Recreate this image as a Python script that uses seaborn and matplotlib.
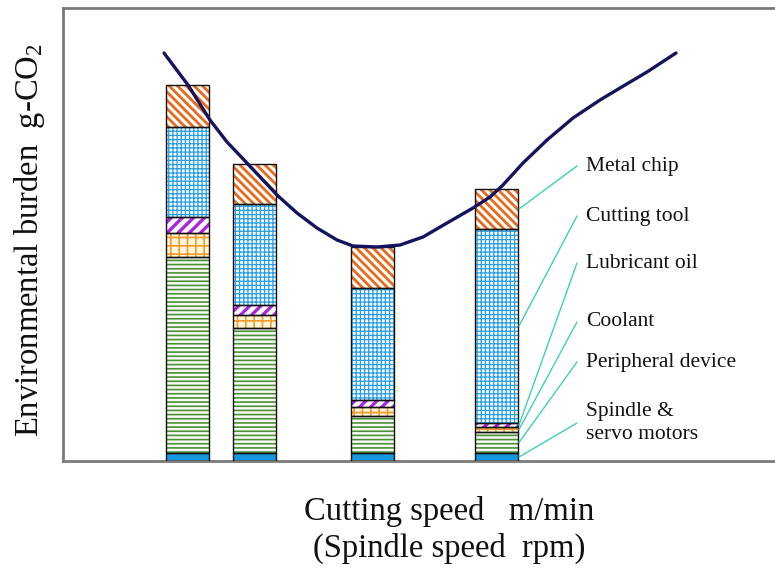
import matplotlib
matplotlib.use("Agg")
import matplotlib.pyplot as plt
import seaborn as sns
import pandas as pd
import numpy as np

# ------------------------ data ------------------------
bar_speed = [187.5, 254.5, 372.5, 496.5]          # bar positions on the cutting speed axis
components = ["Spindle &\nservo motors", "Peripheral device", "Coolant",
              "Lubricant oil", "Cutting tool", "Metal chip"]
spindle = [8, 8, 8, 8]
peripheral = [196, 125, 37, 21]
coolant = [24, 13, 9, 5]
lubricant = [16, 10, 7, 4]
cutting_tool = [90, 101, 112, 194]
metal_chip = [42, 40, 41, 40]

curve_speed = [164, 188, 210, 227, 247, 277, 297, 317, 337, 353, 377, 400, 423,
               447, 473, 490, 503, 523, 547, 573, 600, 620, 647, 676]
curve_burden = [408, 376, 341, 319, 298, 266, 248, 233, 221, 215, 214, 216, 224,
                238, 253, 264, 276, 298, 321, 343, 361, 373, 389, 408]

# ------------------------ styles ------------------------
# (face, hatch colour, hatch, hatch linewidth)
seg_style = [
    ("#1499e0", "#1499e0", "", 1.0),
    ("#f6faf2", "#4f8f3c", "----", 1.2),
    ("#fff6dc", "#f39a2a", "++", 1.2),
    ("#ffffff", "#a826e0", "///", 2.4),
    ("#f4fbff", "#2b9de0", "++++", 0.9),
    ("#ffffff", "#ea6a1c", "\\\\\\\\", 2.0),
]
segments = [spindle, peripheral, coolant, lubricant, cutting_tool, metal_chip]

sns.set_style("white")
plt.rcParams["font.family"] = ["Liberation Serif", "DejaVu Serif"]
plt.rcParams["mathtext.fontset"] = "custom"
plt.rcParams["mathtext.rm"] = "Liberation Serif"
plt.rcParams["mathtext.it"] = "Liberation Serif"

fig = plt.figure(figsize=(7.75, 5.68), dpi=100)
ax = fig.add_axes([63 / 775, 107 / 568, 712 / 775, 453 / 568])

bar_w = 43
bottoms = np.zeros(len(bar_speed))
for vals, (face, hcol, hatch, hlw) in zip(segments, seg_style):
    with plt.rc_context({"hatch.linewidth": hlw}):
        bars = ax.bar(bar_speed, vals, width=bar_w, bottom=bottoms,
                      color=face, edgecolor=hcol, hatch=hatch, linewidth=0, zorder=2)
    for b in bars:
        if hasattr(b, "set_hatch_linewidth"):
            b.set_hatch_linewidth(hlw)
    ax.bar(bar_speed, vals, width=bar_w, bottom=bottoms, fill=False,
           edgecolor="#111111", linewidth=1.0, zorder=3)
    bottoms = bottoms + np.array(vals)

curve = pd.DataFrame({"speed": curve_speed, "burden": curve_burden})
sns.lineplot(data=curve, x="speed", y="burden", color="#14145e", linewidth=2.4,
             ax=ax, zorder=4)

# leader lines from the last bar to the component labels
label_y = {"Metal chip": 295, "Cutting tool": 245, "Lubricant oil": 198,
           "Coolant": 139, "Peripheral device": 99, "Spindle &\nservo motors": 38}
cum = np.cumsum([s[-1] for s in segments])
starts = np.concatenate([[0], cum[:-1]])
x_edge = bar_speed[-1] + bar_w / 2
for name, lo, hi in zip(components, starts, cum):
    ty = label_y[name]
    ax.annotate("", xy=(x_edge + 1, (lo + hi) / 2), xytext=(577, ty),
                arrowprops=dict(arrowstyle="-", color="#3fd0b4", lw=1.0,
                                shrinkA=0, shrinkB=0), zorder=5)
    ax.text(586, ty, name, fontsize=15.5, ha="left", va="center",
            linespacing=1.35, color="#111111")

ax.set_xlim(63, 775)
ax.set_ylim(0, 453)
ax.set_xticks([])
ax.set_yticks([])
ax.set_xlabel("")
ax.set_ylabel("")
for side in ["left", "bottom", "top"]:
    ax.spines[side].set_color("#7a7a7a")
    ax.spines[side].set_linewidth(2)
ax.spines["right"].set_visible(False)

fig.text(30 / 775, 1 - 240 / 568, "Environmental burden  g-CO$_2$", rotation=90,
         ha="center", va="center", fontsize=23.5, color="#111111")
fig.text(449 / 775, 1 - 530 / 568, "Cutting speed   m/min\n(Spindle speed  rpm)",
         ha="center", va="center", fontsize=23.5, linespacing=1.25, color="#111111")

fig.savefig("out.png", dpi=100)
